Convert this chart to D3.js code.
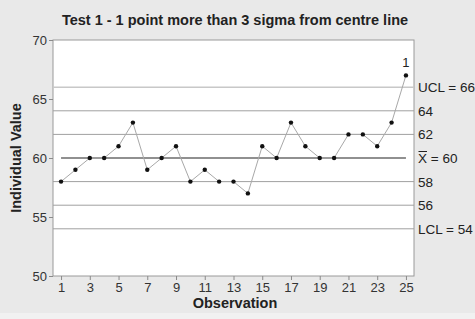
<!DOCTYPE html>
<html><head><meta charset="utf-8">
<script src="https://cdn.jsdelivr.net/npm/d3@7"></script>
<style>body{margin:0;background:#e9e9e9;}svg{display:block;font-family:"Liberation Sans",Arial,Helvetica,sans-serif;}</style>
</head><body><svg id="c" width="475" height="319"></svg>
<script>
const observations = d3.range(1, 26);
const values = [58,59,60,60,61,63,59,60,61,58,59,58,58,57,61,60,63,61,60,60,62,62,61,63,67];
const xTicks = [1,3,5,7,9,11,13,15,17,19,21,23,25];
const yTicks = [50,55,60,65,70];
const refLevels = [66,64,62,58,56,54];
const refLabels = ["UCL = 66","64","62","= 60","58","56","LCL = 54"];
const refLabelLevels = [66,64,62,60,58,56,54];
const centre = 60;
const flagged = [{obs:25, label:"1"}];

const svg = d3.select("#c");
const m = {l:53, r:414, t:40, b:276};
const x = d3.scaleLinear().domain([0.44, 25.56]).range([m.l, m.r]);
const y = d3.scaleLinear().domain([50, 70]).range([m.b, m.t]);

svg.append("rect").attr("width",475).attr("height",319).attr("fill","#e9e9e9");
svg.append("rect").attr("x",0).attr("y",313).attr("width",475).attr("height",6).attr("fill","#f1f1f1");
svg.append("rect").attr("x",m.l).attr("y",m.t).attr("width",m.r-m.l).attr("height",m.b-m.t)
  .attr("fill","#fff").attr("stroke","#9a9a9a").attr("stroke-width",1);

// reference lines
svg.selectAll(".ref").data(refLevels).join("line")
  .attr("x1",m.l).attr("x2",m.r)
  .attr("y1",d=>y(d)).attr("y2",d=>y(d))
  .attr("stroke",d=>d===66?"#c8c8c8":"#a0a0a0")
  .attr("stroke-width",d=>d===66?1.6:1);
svg.append("line").attr("x1",x(1)).attr("x2",x(25)).attr("y1",y(centre)).attr("y2",y(centre))
  .attr("stroke","#222").attr("stroke-width",1.2);

// right labels
const rl = svg.append("g").attr("font-size",13.5).attr("fill","#222");
refLabels.forEach((t,i)=>{
  const yy = y(refLabelLevels[i]) + 5;
  if (refLabelLevels[i]===60) {
    rl.append("text").attr("x",418).attr("y",yy).text("X");
    rl.append("line").attr("x1",418.5).attr("x2",427).attr("y1",yy-11.5).attr("y2",yy-11.5).attr("stroke","#222").attr("stroke-width",1);
    rl.append("text").attr("x",427).attr("y",yy).attr("xml:space","preserve").text(" " + t);
  } else {
    rl.append("text").attr("x",418).attr("y",yy).text(t);
  }
});

// axes
const yAxis = svg.append("g").attr("transform",`translate(${m.l},0)`)
  .call(d3.axisLeft(y).tickValues(yTicks).tickSize(4).tickPadding(2));
const xAxis = svg.append("g").attr("transform",`translate(0,${m.b})`)
  .call(d3.axisBottom(x).tickValues(xTicks).tickSize(4).tickPadding(3));
[yAxis,xAxis].forEach(a=>{
  a.select(".domain").remove();
  a.selectAll("line").attr("stroke","#8a8a8a");
  a.selectAll("text").attr("font-size",13).attr("fill","#333").attr("font-family","'Liberation Sans',Arial,sans-serif");
});

// series
svg.append("path").datum(values)
  .attr("d", d3.line().x((d,i)=>x(observations[i])).y(d=>y(d)))
  .attr("fill","none").attr("stroke","#a8a8a8").attr("stroke-width",1);
svg.selectAll(".pt").data(values).join("circle")
  .attr("cx",(d,i)=>x(observations[i])).attr("cy",d=>y(d)).attr("r",2.2).attr("fill","#111");
svg.selectAll(".flag").data(flagged).join("text")
  .attr("x",d=>x(d.obs)).attr("y",d=>y(values[d.obs-1])-8)
  .attr("text-anchor","middle").attr("font-size",13).attr("fill","#222").text(d=>d.label);

// titles
svg.append("text").attr("x",235).attr("y",25).attr("text-anchor","middle")
  .attr("font-size",14.5).attr("font-weight","bold").attr("fill","#222")
  .text("Test 1 - 1 point more than 3 sigma from centre line");
svg.append("text").attr("x",235).attr("y",308).attr("text-anchor","middle")
  .attr("font-size",14.5).attr("font-weight","bold").attr("fill","#222").text("Observation");
svg.append("text").attr("transform",`translate(21,${(m.t+m.b)/2}) rotate(-90)`)
  .attr("text-anchor","middle").attr("font-size",14.5).attr("font-weight","bold").attr("fill","#222")
  .text("Individual Value");
</script></body></html>
